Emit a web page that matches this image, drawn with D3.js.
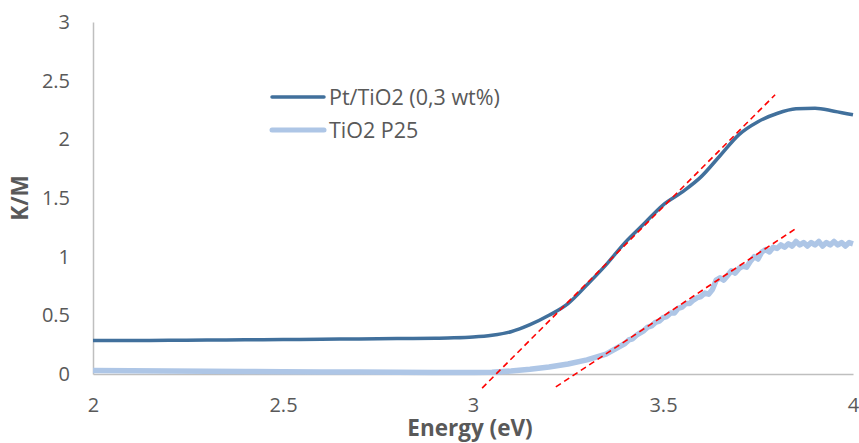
<!DOCTYPE html>
<html>
<head>
<meta charset="utf-8">
<script src="https://cdn.jsdelivr.net/npm/d3@7"></script>
<style>
  html, body { margin: 0; padding: 0; background: #fff; }
  svg { display: block; font-family: "Open Sans", sans-serif; }
</style>
</head>
<body>
<svg id="chart" width="859" height="443"></svg>
<script>
// ---- data ----
const xTicks = [2, 2.5, 3, 3.5, 4];
const yTicks = [0, 0.5, 1, 1.5, 2, 2.5, 3];
const seriesNames = ["Pt/TiO2 (0,3 wt%)", "TiO2 P25"];

const ptEnergy = [2.0, 2.1, 2.2, 2.3, 2.4, 2.5, 2.6, 2.7, 2.8, 2.9, 2.95, 3.0, 3.05, 3.1, 3.15, 3.2, 3.25, 3.3, 3.35, 3.4, 3.45, 3.5, 3.55, 3.6, 3.65, 3.7, 3.75, 3.8, 3.85, 3.9, 3.95, 4.0];
const ptKM = [0.285, 0.286, 0.287, 0.289, 0.291, 0.293, 0.296, 0.299, 0.302, 0.305, 0.308, 0.315, 0.33, 0.36, 0.42, 0.50, 0.60, 0.76, 0.93, 1.12, 1.28, 1.44, 1.55, 1.68, 1.86, 2.04, 2.15, 2.22, 2.26, 2.265, 2.24, 2.21];

const p25Energy = [2.0, 2.1, 2.2, 2.3, 2.4, 2.5, 2.6, 2.7, 2.8, 2.9, 3.0, 3.05, 3.1, 3.15, 3.2, 3.25, 3.3, 3.35,
  3.40, 3.41, 3.42, 3.43, 3.44, 3.45, 3.46, 3.47, 3.48, 3.49, 3.50, 3.51, 3.52, 3.53, 3.54, 3.55, 3.56, 3.57, 3.58, 3.59,
  3.60, 3.61, 3.62, 3.63, 3.64, 3.65, 3.66, 3.67, 3.68, 3.69, 3.70, 3.71, 3.72, 3.73, 3.74, 3.75, 3.76, 3.77, 3.78, 3.79,
  3.80, 3.81, 3.82, 3.83, 3.84, 3.85, 3.86, 3.87, 3.88, 3.89, 3.90, 3.91, 3.92, 3.93, 3.94, 3.95, 3.96, 3.97, 3.98, 3.99, 4.00];
const p25KM = [0.030, 0.028, 0.026, 0.024, 0.022, 0.020, 0.018, 0.016, 0.014, 0.012, 0.012, 0.015, 0.025, 0.04, 0.06, 0.085, 0.12, 0.17,
  0.26, 0.29, 0.30, 0.33, 0.35, 0.37, 0.40, 0.41, 0.44, 0.45, 0.48, 0.49, 0.52, 0.52, 0.56, 0.57, 0.60, 0.60, 0.63, 0.65,
  0.66, 0.69, 0.68, 0.72, 0.80, 0.82, 0.80, 0.84, 0.88, 0.86, 0.90, 0.92, 0.91, 0.96, 1.00, 0.98, 1.04, 1.06, 1.04, 1.08,
  1.07, 1.10, 1.08, 1.11, 1.09, 1.13, 1.10, 1.12, 1.09, 1.12, 1.10, 1.13, 1.09, 1.12, 1.10, 1.13, 1.10, 1.12, 1.09, 1.12, 1.11];

// tangent (Tauc-style) fit lines: endpoints [energy, K/M]
const fitPt = [[3.024, -0.12], [3.795, 2.38]];
const fitP25 = [[3.218, -0.11], [3.848, 1.236]];

// ---- layout ----
const svg = d3.select("#chart");
const mLeft = 93, mRight = 853, mTop = 22, mBottom = 374;
const x = d3.scaleLinear().domain([2, 4]).range([mLeft, mRight]);
const y = d3.scaleLinear().domain([0, 3]).range([mBottom, mTop]);
const textColor = "#595959";
const axisColor = "#BFBFBF";
const font = "'Open Sans', sans-serif";

// axes
const xAxis = svg.append("g").attr("transform", `translate(0,${mBottom})`)
  .call(d3.axisBottom(x).tickValues(xTicks).tickSize(0).tickPadding(24).tickFormat(d3.format("")));
const yAxis = svg.append("g").attr("transform", `translate(${mLeft},0)`)
  .call(d3.axisLeft(y).tickValues(yTicks).tickSize(0).tickPadding(23).tickFormat(d3.format("")));
[xAxis, yAxis].forEach(g => {
  g.select(".domain").attr("stroke", axisColor).attr("stroke-width", 1.5);
  g.selectAll("text").attr("fill", textColor).style("font-size", "20px").style("font-family", font);
});

const line = d3.line().x(d => x(d[0])).y(d => y(d[1]));

// series
svg.append("path").datum(d3.zip(p25Energy, p25KM))
  .attr("fill", "none").attr("stroke", "#AEC6E6").attr("stroke-width", 5.5)
  .attr("stroke-linejoin", "round").attr("d", line);
svg.append("path").datum(d3.zip(ptEnergy, ptKM))
  .attr("fill", "none").attr("stroke", "#41709C").attr("stroke-width", 3.5)
  .attr("stroke-linejoin", "round").attr("d", d3.line().curve(d3.curveMonotoneX).x(d => x(d[0])).y(d => y(d[1])));

// fit lines
[fitPt, fitP25].forEach(f => {
  svg.append("path").datum(f).attr("fill", "none").attr("stroke", "#FF0000")
    .attr("stroke-width", 1.6).attr("stroke-dasharray", "6,4").attr("d", line);
});

// legend
const legend = [
  {name: seriesNames[0], color: "#41709C", w: 3.5, y: 97},
  {name: seriesNames[1], color: "#AEC6E6", w: 5, y: 130}
];
legend.forEach(l => {
  svg.append("line").attr("x1", 272).attr("x2", 324).attr("y1", l.y).attr("y2", l.y)
    .attr("stroke", l.color).attr("stroke-width", l.w).attr("stroke-linecap", "round");
  svg.append("text").attr("x", 329).attr("y", l.y).attr("dy", "0.35em")
    .attr("fill", textColor).style("font-size", "21.5px").text(l.name);
});

// axis titles
svg.append("text").attr("x", 470).attr("y", 436).attr("text-anchor", "middle")
  .attr("fill", textColor).style("font-size", "22.5px").style("font-weight", "bold").text("Energy (eV)");
svg.append("text").attr("transform", "translate(28,198) rotate(-90)").attr("text-anchor", "middle")
  .attr("fill", textColor).style("font-size", "22.5px").style("font-weight", "bold").text("K/M");
</script>
</body>
</html>
